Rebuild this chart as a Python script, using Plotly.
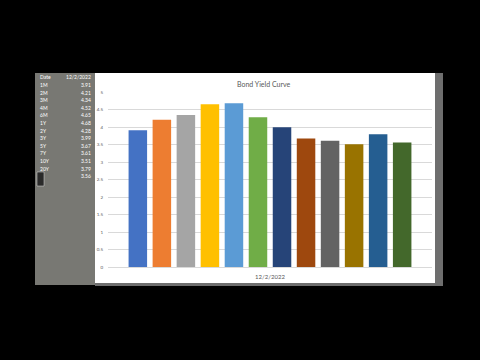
import plotly.graph_objects as go

# ---- data ----
date_label = "12/2/2022"
table_tenors = ["1M", "2M", "3M", "4M", "6M", "1Y", "2Y", "3Y", "5Y", "7Y", "10Y", "20Y", "30Y"]
table_yields = ["3.91", "4.21", "4.34", "4.52", "4.65", "4.68", "4.28", "3.99", "3.67", "3.61", "3.51", "3.79", "3.56"]

chart_tenors = ["1M", "2M", "3M", "6M", "1Y", "2Y", "3Y", "5Y", "7Y", "10Y", "20Y", "30Y"]
chart_yields = [3.91, 4.21, 4.34, 4.65, 4.68, 4.28, 3.99, 3.67, 3.61, 3.51, 3.79, 3.56]
bar_colors = ["#4472C4", "#ED7D31", "#A5A5A5", "#FFC000", "#5B9BD5", "#70AD47",
              "#264478", "#9E480E", "#636363", "#997300", "#255E91", "#43682B"]
y_ticks = [0, 0.5, 1, 1.5, 2, 2.5, 3, 3.5, 4, 4.5, 5]

# ---- layout geometry (pixels) ----
W, H = 480, 360
L, R, T, B = 108, 48, 92, 93
pw, ph = W - L - R, H - T - B


def px(x):
    return (x - L) / pw


def py(y):
    return (H - B - y) / ph


fig = go.Figure()
for name, val, col in zip(chart_tenors, chart_yields, bar_colors):
    fig.add_trace(go.Bar(x=[date_label], y=[val], name=name, marker_color=col,
                         marker_line_width=0, showlegend=False))

shapes = [
    # grey spreadsheet panel
    dict(type="rect", xref="paper", yref="paper", x0=px(35), x1=px(95), y0=py(285), y1=py(73),
         fillcolor="#787873", line_width=0, layer="below"),
    # white chart area
    dict(type="rect", xref="paper", yref="paper", x0=px(95), x1=px(435), y0=py(283), y1=py(73),
         fillcolor="white", line_width=0, layer="below"),
    # right grey strip
    dict(type="rect", xref="paper", yref="paper", x0=px(435), x1=px(443), y0=py(286), y1=py(73),
         fillcolor="#6e6e6e", line_width=0, layer="below"),
    # bottom grey edge
    dict(type="rect", xref="paper", yref="paper", x0=px(95), x1=px(443), y0=py(286), y1=py(283),
         fillcolor="#6e6e6e", line_width=0, layer="below"),
    # selected cell
    dict(type="rect", xref="paper", yref="paper", x0=px(37), x1=px(44), y0=py(186), y1=py(172),
         fillcolor="#2a2a2a", line=dict(color="#dddddd", width=0.5), layer="above"),
]

annotations = [
    dict(text="Bond Yield Curve", x=px(263), y=py(84), xref="paper", yref="paper",
         showarrow=False, font=dict(size=7, color="#595959", family="Lato"),
         xanchor="center", yanchor="middle"),
    dict(text="Date", x=px(38), y=py(77), xref="paper", yref="paper", showarrow=False,
         font=dict(size=5, color="white", family="Lato"), xanchor="left", yanchor="middle"),
    dict(text=date_label, x=px(93), y=py(77), xref="paper", yref="paper", showarrow=False,
         font=dict(size=5, color="white", family="Lato"), xanchor="right", yanchor="middle"),
]
for i, (t, v) in enumerate(zip(table_tenors, table_yields)):
    yy = 85 + i * 7.6
    if t != "30Y":
        annotations.append(dict(text=t, x=px(38), y=py(yy), xref="paper", yref="paper",
                                showarrow=False, font=dict(size=5, color="white", family="Lato"),
                                xanchor="left", yanchor="middle"))
    annotations.append(dict(text=v, x=px(93), y=py(yy), xref="paper", yref="paper",
                            showarrow=False, font=dict(size=5, color="white", family="Lato"),
                            xanchor="right", yanchor="middle"))

fig.update_layout(
    width=W, height=H,
    margin=dict(l=L, r=R, t=T, b=B, pad=0),
    paper_bgcolor="black",
    plot_bgcolor="white",
    barmode="group",
    bargap=0.11,
    bargroupgap=0.23,
    shapes=shapes,
    annotations=annotations,
    xaxis=dict(showgrid=False, zeroline=False, showline=False, ticks="",
               ticklabelstandoff=5,
               tickfont=dict(size=6, color="#595959", family="Lato")),
    yaxis=dict(range=[0, 5], tickvals=y_ticks, ticktext=[f"{v:g}" for v in y_ticks],
               showgrid=True, gridcolor="#d9d9d9", gridwidth=0.7, zeroline=True,
               zerolinecolor="#d9d9d9", zerolinewidth=0.7, showline=False,
               ticks="", ticklabelstandoff=4,
               tickfont=dict(size=4.5, color="#595959", family="Lato")),
)

fig.write_html("out.html")
